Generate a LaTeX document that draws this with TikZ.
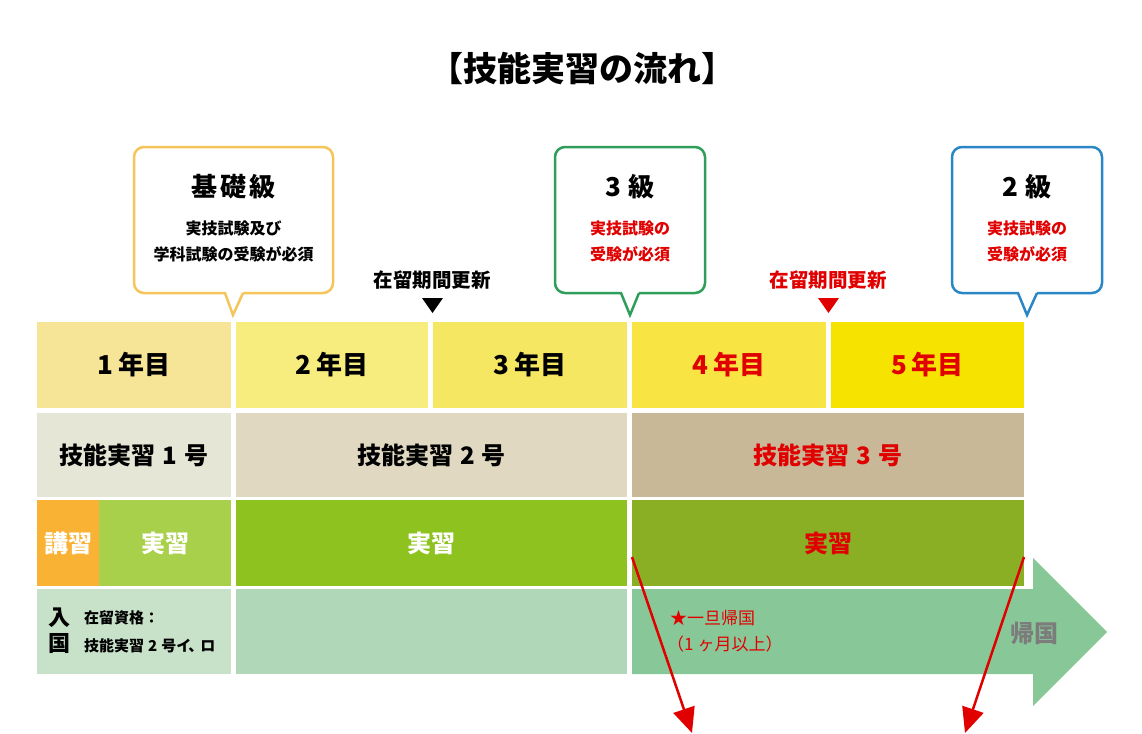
\documentclass[tikz,border=0pt]{standalone}
\usepackage{fontspec}
\setmainfont{Noto Sans CJK JP}
\usetikzlibrary{arrows.meta}
\definecolor{cYA}{HTML}{F7E597}
\definecolor{cYB}{HTML}{F7EC7E}
\definecolor{cYC}{HTML}{F5E761}
\definecolor{cYD}{HTML}{F8E544}
\definecolor{cYE}{HTML}{F7E300}
\definecolor{cGA}{HTML}{E6E6D6}
\definecolor{cGB}{HTML}{E0D8C1}
\definecolor{cGC}{HTML}{C8B898}
\definecolor{cOr}{HTML}{F9B233}
\definecolor{cLG}{HTML}{A9D04A}
\definecolor{cMG}{HTML}{8DC21F}
\definecolor{cDG}{HTML}{8BAF24}
\definecolor{cPA}{HTML}{C8E2CA}
\definecolor{cPB}{HTML}{B0D8B8}
\definecolor{cPC}{HTML}{88C898}
\definecolor{cRed}{HTML}{E00000}
\definecolor{cGray}{HTML}{7C7C7C}
\definecolor{cBY}{HTML}{F5C55C}
\definecolor{cBG}{HTML}{2E9E5A}
\definecolor{cBB}{HTML}{2A86C4}
\begin{document}
\begin{tikzpicture}[x=1pt,y=-1pt,
  cell/.style={rectangle,inner sep=0pt,outer sep=0pt,font=\fontsize{24}{28}\selectfont\bfseries},
  yr/.style={cell,font=\fontsize{26}{30}\selectfont\bfseries},
  bub/.style={rectangle,rounded corners=10pt,line width=2.5pt,fill=white,inner sep=0pt},
  tailline/.style={line width=2.5pt,line join=miter},
  big/.style={font=\fontsize{26}{30}\selectfont\bfseries,inner sep=0pt},
  small/.style={font=\fontsize{16}{19}\selectfont\bfseries,inner sep=0pt},
  renew/.style={font=\fontsize{19.5}{22}\selectfont\bfseries,inner sep=0pt},
  redarrow/.style={cRed,line width=2.5pt,-{Triangle[length=25pt,width=22pt]}}
]
\useasboundingbox[fill=white] (0,0) rectangle (1142,733);

% title
\node[font=\fontsize{34}{38}\selectfont\bfseries,inner sep=0pt] (title) at (582,69) {【技能実習の流れ】};

% bubbles
\node[bub,draw=cBY,minimum width=199,minimum height=146] (b1) at (233.5,220) {};
\fill[white] (225.5,290) rectangle (242.5,295.5);
\fill[white] (225,293) -- (233,315) -- (243,293) -- cycle;
\draw[tailline,cBY] (225,293) -- (233,315) -- (243,293);
\node[big] (b1t) at (233.5,187) {基\kern3pt 礎\kern3pt 級};
\node[small] (b1a) at (233.5,228) {実技試験及び};
\node[small] (b1b) at (233.5,254) {学科試験の受験が必須};

\node[bub,draw=cBG,minimum width=150,minimum height=146] (b2) at (630,220) {};
\fill[white] (621.5,290) rectangle (638.5,295.5);
\fill[white] (621,293) -- (630,315) -- (639,293) -- cycle;
\draw[tailline,cBG] (621,293) -- (630,315) -- (639,293);
\node[big] (b2t) at (630,187) {3\kern8pt 級};
\node[small,cRed] (b2a) at (630,228) {実技試験の};
\node[small,cRed] (b2b) at (630,254) {受験が必須};

\node[bub,draw=cBB,minimum width=150,minimum height=146] (b3) at (1027,220) {};
\fill[white] (1018.5,290) rectangle (1036.5,295.5);
\fill[white] (1018,293) -- (1027,315) -- (1037,293) -- cycle;
\draw[tailline,cBB] (1018,293) -- (1027,315) -- (1037,293);
\node[big] (b3t) at (1027,187) {2\kern8pt 級};
\node[small,cRed] (b3a) at (1027,228) {実技試験の};
\node[small,cRed] (b3b) at (1027,254) {受験が必須};

% renewal marks
\node[renew] (rn1) at (432,280) {在留期間更新};
\fill (422,298) -- (443,298) -- (432.5,313) -- cycle;
\node[renew,cRed] (rn2) at (828,280) {在留期間更新};
\fill[cRed] (818,298) -- (839,298) -- (828.5,313) -- cycle;

% row 1
\node[yr,fill=cYA,minimum width=194,minimum height=86] (y1) at (134,365) {1\kern5pt 年目};
\node[yr,fill=cYB,minimum width=192,minimum height=86] (y2) at (332,365) {2\kern5pt 年目};
\node[yr,fill=cYC,minimum width=194,minimum height=86] (y3) at (530,365) {3\kern5pt 年目};
\node[yr,fill=cYD,minimum width=194,minimum height=86,text=cRed] (y4) at (729,365) {4\kern5pt 年目};
\node[yr,fill=cYE,minimum width=193,minimum height=86,text=cRed] (y5) at (927.5,365) {5\kern5pt 年目};

% row 2
\node[cell,fill=cGA,minimum width=194,minimum height=84] (g1) at (134,455) {技能実習\kern7pt 1\kern7pt 号};
\node[cell,fill=cGB,minimum width=391,minimum height=84] (g2) at (431.5,455) {技能実習\kern7pt 2\kern7pt 号};
\node[cell,fill=cGC,minimum width=392,minimum height=84,text=cRed] (g3) at (828,455) {技能実習\kern7pt 3\kern7pt 号};

% row 3
\node[cell,fill=cOr,minimum width=62,minimum height=86,text=white] (k1) at (68,543) {講習};
\node[cell,fill=cLG,minimum width=132,minimum height=86,text=white] (j1) at (165,543) {実習};
\node[cell,fill=cMG,minimum width=391,minimum height=86,text=white] (j2) at (431.5,543) {実習};
\node[cell,fill=cDG,minimum width=392,minimum height=86,text=cRed] (j3) at (828,543) {実習};

% row 4
\node[cell,fill=cPA,minimum width=194,minimum height=85] (e1) at (134,631.5) {};
\node[cell,fill=cPB,minimum width=391,minimum height=85] (e2) at (431.5,631.5) {};
\fill[cPC] (632,589) -- (1033,589) -- (1033,558) -- (1107,632) -- (1033,706) -- (1033,674) -- (632,674) -- cycle;

\node[font=\fontsize{22}{24}\selectfont\bfseries,inner sep=0pt] (n1) at (59,618) {入};
\node[font=\fontsize{22}{24}\selectfont\bfseries,inner sep=0pt] (n2) at (59,644) {国};
\node[font=\fontsize{15}{18}\selectfont\bfseries,inner sep=0pt,anchor=west] (s1) at (84,618) {在留資格：};
\node[font=\fontsize{15}{18}\selectfont\bfseries,inner sep=0pt,anchor=west] (s2) at (84,646) {技能実習\kern4pt 2\kern4pt 号イ\kern-3pt 、\kern-3pt ロ};

\node[font=\fontsize{17}{20}\selectfont,text=cRed,anchor=west,inner sep=0pt] (h1) at (670,618) {★一旦帰国};
\node[font=\fontsize{17}{20}\selectfont,text=cRed,anchor=west,inner sep=0pt] (h2) at (667,644) {（1\kern4pt ヶ月以上）};
\node[font=\fontsize{24}{28}\selectfont\bfseries,text=cGray,inner sep=0pt] (kk) at (1034,633) {帰国};

% red arrows
\coordinate (r1s) at (632,557);
\coordinate (r1e) at (692,733);
\coordinate (r2s) at (1024,557);
\coordinate (r2e) at (965,733);
\draw[redarrow] (r1s) -- (r1e);
\draw[redarrow] (r2s) -- (r2e);
\end{tikzpicture}
\end{document}
